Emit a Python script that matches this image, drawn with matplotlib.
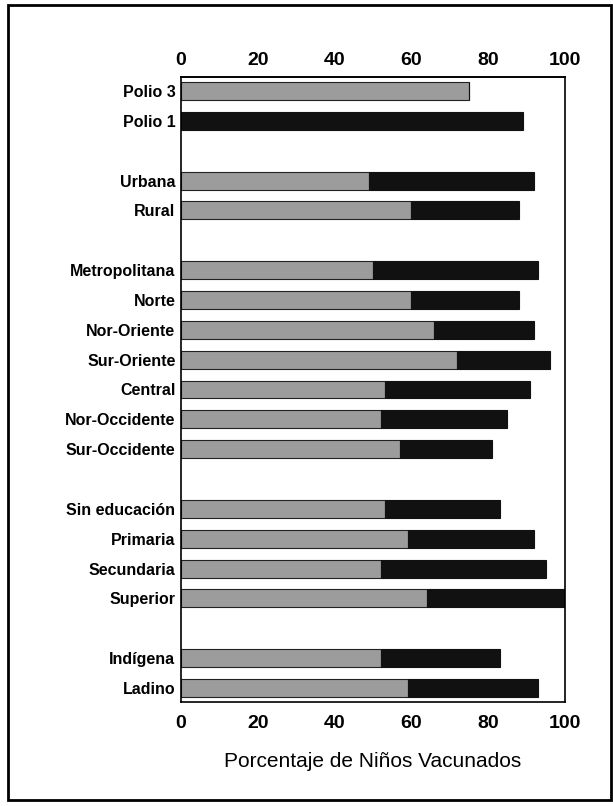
import matplotlib
matplotlib.use("Agg")
from matplotlib import pyplot as plt
from matplotlib.patches import Rectangle

# groups of categories, separated by an empty row
groups = [
    ["Polio 3", "Polio 1"],
    ["Urbana", "Rural"],
    ["Metropolitana", "Norte", "Nor-Oriente", "Sur-Oriente", "Central",
     "Nor-Occidente", "Sur-Occidente"],
    ["Sin educación", "Primaria", "Secundaria", "Superior"],
    ["Indígena", "Ladino"],
]
# gray part (first segment) and total length of each bar
gray_vals = [75, 0, 49, 60, 50, 60, 66, 72, 53, 52, 57, 53, 59, 52, 64, 52, 59]
total_vals = [75, 89, 92, 88, 93, 88, 92, 96, 91, 85, 81, 83, 92, 95, 100, 83, 93]
xticks = [0, 20, 40, 60, 80, 100]
xlabel = "Porcentaje de Niños Vacunados"

plt.rcParams["font.family"] = ["Liberation Sans", "DejaVu Sans"]

labels = []
ypos = []
y = 0
for g in groups:
    for name in g:
        labels.append(name)
        ypos.append(y)
        y += 1
    y += 1

black_vals = [t - g for g, t in zip(gray_vals, total_vals)]

fig = plt.figure(figsize=(6.13, 8.06), dpi=100)
ax = fig.add_axes([181 / 613, 1 - 702 / 806, 384 / 613, 625 / 806])

ax.barh(ypos, gray_vals, height=0.6, color="#9c9c9c", edgecolor="#222222", linewidth=0.8)
ax.barh(ypos, black_vals, left=gray_vals, height=0.6, color="#111111",
        edgecolor="#111111", linewidth=0.8)

ax.set_xlim(0, 100)
ax.set_ylim(ypos[-1] + 0.47, -0.47)
ax.set_yticks(ypos)
ax.set_yticklabels(labels, fontsize=11.5, fontweight="bold")
ax.set_xticks(xticks)
ax.set_xticklabels([str(v) for v in xticks], fontsize=14, fontweight="bold")
ax.tick_params(axis="both", length=0)
ax.tick_params(axis="y", pad=4)
ax.tick_params(axis="x", pad=9)

top = ax.secondary_xaxis("top")
top.set_xticks(xticks)
top.set_xticklabels([str(v) for v in xticks], fontsize=14, fontweight="bold")
top.tick_params(length=0, pad=6)
top.spines["top"].set_linewidth(1.2)

for s in ax.spines.values():
    s.set_color("black")
    s.set_linewidth(1.2)
ax.set_xlabel(xlabel, fontsize=15, labelpad=15)

# frame around the whole figure
fig.patches.append(Rectangle((8 / 613, 1 - 800 / 806), 603 / 613, 795 / 806,
                             transform=fig.transFigure, fill=False,
                             edgecolor="black", linewidth=2))

fig.savefig("out.png", dpi=100)
